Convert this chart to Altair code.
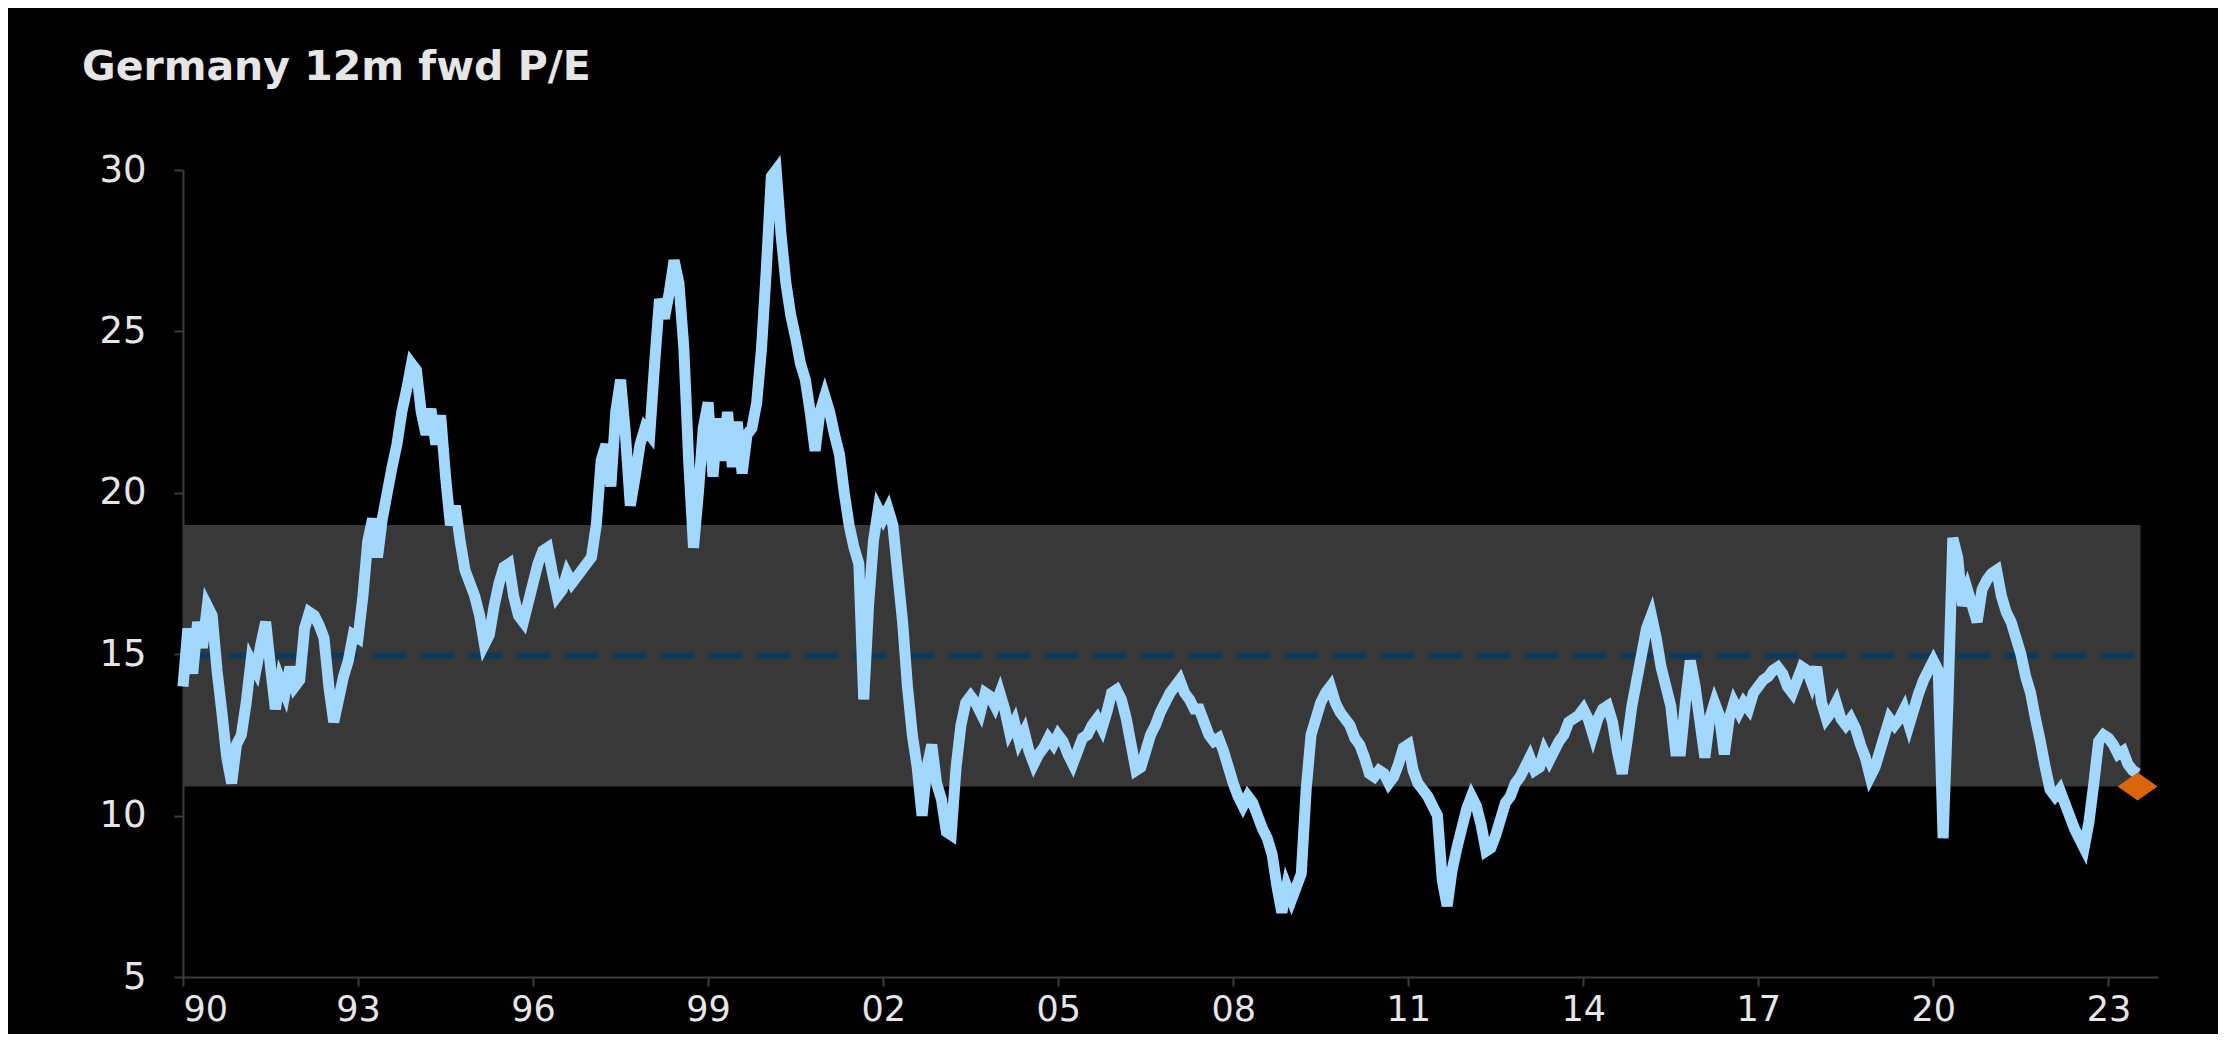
import altair as alt
import pandas as pd

# ---- data (monthly, Jan 1990 .. Jul 2023) ----
start_year = 1990
pe_1990s = [
    14.0, 15.8, 14.4, 16.0, 15.2, 16.5, 16.2, 14.5, 13.2, 11.8, 11.0, 12.2,   # 1990
    12.5, 13.5, 14.8, 14.5, 15.3, 16.0, 14.6, 13.3, 14.2, 13.8, 14.6, 14.0,   # 1991
    14.2, 15.8, 16.3, 16.2, 15.9, 15.5, 14.0, 12.9, 13.6, 14.3, 14.8, 15.6,   # 1992
    15.5, 16.8, 18.5, 19.2, 18.0, 19.2, 20.0, 20.8, 21.5, 22.5, 23.2, 24.0,   # 1993
    23.8, 22.5, 21.8, 22.6, 21.5, 22.4, 20.5, 19.0, 19.6, 18.5, 17.6, 17.2,   # 1994
    16.8, 16.2, 15.3, 15.6, 16.5, 17.2, 17.7, 17.8, 16.8, 16.2, 16.0, 16.6,   # 1995
    17.2, 17.8, 18.2, 18.3, 17.5, 16.8, 17.0, 17.5, 17.2, 17.4, 17.6, 17.8,   # 1996
    18.0, 19.0, 21.0, 21.5, 20.2, 22.5, 23.5, 21.8, 19.6, 20.5, 21.5, 22.0,   # 1997
    21.8, 24.0, 26.0, 25.4, 26.2, 27.2, 26.5, 24.5, 21.0, 18.3, 20.0, 22.0,   # 1998
    22.8, 20.5, 22.3, 21.0, 22.5, 20.8, 22.2, 20.6, 21.8, 22.0, 22.8, 24.5,   # 1999
]
pe_2000s = [
    27.0, 29.8, 30.0, 28.0, 26.5, 25.5, 24.8, 24.0, 23.5, 22.5, 21.3, 22.5,   # 2000
    23.0, 22.5, 21.8, 21.2, 20.0, 19.0, 18.3, 17.8, 13.6, 16.5, 18.5, 19.5,   # 2001
    19.2, 19.5, 19.0, 17.5, 16.0, 14.0, 12.5, 11.5, 10.0, 11.5, 12.2, 11.0,   # 2002
    10.5, 9.5, 9.4, 11.5, 12.8, 13.5, 13.7, 13.5, 13.2, 13.8, 13.7, 13.4,     # 2003
    13.8, 13.3, 12.6, 12.9, 12.3, 12.6, 12.0, 11.6, 11.9, 12.1, 12.4, 12.2,   # 2004
    12.5, 12.3, 11.9, 11.6, 12.0, 12.4, 12.5, 12.8, 13.0, 12.7, 13.2, 13.8,   # 2005
    13.9, 13.6, 13.0, 12.2, 11.4, 11.5, 12.0, 12.5, 12.8, 13.2, 13.5, 13.8,   # 2006
    14.0, 14.2, 13.8, 13.6, 13.3, 13.3, 12.9, 12.5, 12.3, 12.4, 12.0, 11.5,   # 2007
    11.0, 10.6, 10.3, 10.6, 10.4, 10.0, 9.6, 9.3, 8.8, 7.8, 7.0, 7.8,         # 2008
    7.4, 7.8, 8.2, 10.8, 12.5, 13.0, 13.5, 13.8, 14.0, 13.5, 13.2, 13.0,      # 2009
]
pe_2010s = [
    12.8, 12.4, 12.2, 11.8, 11.3, 11.2, 11.4, 11.3, 11.0, 11.2, 11.6, 12.1,   # 2010
    12.2, 11.4, 11.0, 10.8, 10.6, 10.3, 10.0, 8.0, 7.2, 8.3, 9.0, 9.6,        # 2011
    10.2, 10.6, 10.3, 9.7, 8.9, 9.0, 9.4, 9.9, 10.4, 10.6, 11.0, 11.2,        # 2012
    11.5, 11.8, 11.4, 11.5, 12.0, 11.7, 12.0, 12.3, 12.5, 12.9, 13.0, 13.1,   # 2013
    13.3, 13.0, 12.5, 13.0, 13.3, 13.4, 12.9, 12.0, 11.3, 12.3, 13.4, 14.2,   # 2014
    15.0, 15.8, 16.2, 15.5, 14.6, 14.0, 13.4, 12.0, 12.0, 13.5, 14.8, 14.0,   # 2015
    12.9, 11.8, 13.0, 13.5, 13.1, 11.9, 13.0, 13.5, 13.2, 13.5, 13.3, 13.8,   # 2016
    14.0, 14.2, 14.3, 14.5, 14.6, 14.4, 14.0, 13.8, 14.2, 14.6, 14.5, 14.1,   # 2017
    14.6, 13.5, 13.0, 13.2, 13.5, 13.0, 12.8, 13.0, 12.7, 12.2, 11.8, 11.2,   # 2018
    11.5, 12.0, 12.5, 13.0, 12.8, 13.0, 13.3, 12.8, 13.3, 13.8, 14.2, 14.5,   # 2019
]
pe_2020s = [
    14.8, 14.5, 9.3, 13.5, 18.6, 18.0, 16.5, 17.0, 16.5, 16.0, 17.0, 17.3,    # 2020
    17.5, 17.6, 16.8, 16.3, 16.0, 15.5, 15.0, 14.3, 13.8, 13.0, 12.3, 11.5,   # 2021
    10.8, 10.6, 10.8, 10.4, 10.0, 9.6, 9.3, 9.0, 9.8, 11.0, 12.3, 12.5,       # 2022
    12.4, 12.2, 11.9, 12.0, 11.6, 11.4, 11.3,                                 # 2023
]
pe_values = pe_1990s + pe_2000s + pe_2010s + pe_2020s

mean_pe = 14.95
band_low = 10.9
band_high = 19.0
band_end = 2023.55
latest_t = 2023.5
latest_pe = 10.9

x_ticks = [1990, 1993, 1996, 1999, 2002, 2005, 2008, 2011, 2014, 2017, 2020, 2023]
y_ticks = [5, 10, 15, 20, 25, 30]
x_domain = [1990, 2023.85]
y_domain = [5, 30]

series = pd.DataFrame({
    "t": [start_year + i / 12 for i in range(len(pe_values))],
    "pe": pe_values,
})
band = pd.DataFrame({"x": [start_year], "x2": [band_end], "y": [band_low], "y2": [band_high]})
mean_df = pd.DataFrame({"x": [start_year], "x2": [band_end + 0.05], "y": [mean_pe]})
latest = pd.DataFrame({"t": [latest_t], "pe": [latest_pe]})

label_color = "#e6e6e6"
axis_color = "#3c3c3c"
label_font = "DejaVu Sans"

x_scale = alt.Scale(domain=x_domain, nice=False, zero=False)
y_scale = alt.Scale(domain=y_domain, nice=False, zero=False)

x_axis = alt.Axis(
    values=x_ticks, labelExpr="substring(toString(datum.value), 2, 4)",
    title=None, grid=False, domainColor=axis_color, domainWidth=2,
    tickColor=axis_color, tickWidth=2, tickSize=9, labelPadding=6,
    labelColor=label_color, labelFontSize=35, labelFont=label_font,
)
y_axis = alt.Axis(
    values=y_ticks, title=None, grid=False, domainColor=axis_color, domainWidth=2,
    tickColor=axis_color, tickWidth=2, tickSize=9, labelPadding=28,
    labelColor=label_color, labelFontSize=37, labelFont=label_font,
)

band_layer = alt.Chart(band).mark_rect(color="#383838").encode(
    x=alt.X("x:Q", scale=x_scale, axis=x_axis),
    x2="x2:Q",
    y=alt.Y("y:Q", scale=y_scale, axis=y_axis),
    y2="y2:Q",
)

mean_layer = alt.Chart(mean_df).mark_rule(
    color="#0b3a5e", strokeWidth=6, strokeDash=[28, 20], strokeCap="round"
).encode(x="x:Q", x2="x2:Q", y="y:Q")

line_layer = alt.Chart(series).mark_line(
    color="#a2d7ff", strokeWidth=11, strokeJoin="miter", interpolate="linear"
).encode(x="t:Q", y="pe:Q")

point_layer = alt.Chart(latest).mark_point(
    shape="M -1 0 L 0 -0.7 L 1 0 L 0 0.7 Z", filled=True, size=1600,
    color="#d9660b", opacity=1,
).encode(x="t:Q", y="pe:Q")

chart = alt.layer(band_layer, mean_layer, line_layer, point_layer).properties(
    width=1975,
    height=807,
    padding={"left": 175, "top": 162, "right": 60, "bottom": 57},
    autosize=alt.AutoSizeParams(type="none"),
    background="#000000",
    title=alt.TitleParams(
        "Germany 12m fwd P/E", anchor="start", frame="group", dx=-101,
        offset=59, color=label_color, fontSize=41, fontWeight="bold",
        font="DejaVu Sans",
    ),
).configure_view(stroke=None)

chart.save("out.html", embed_options={"renderer": "svg", "actions": False})
